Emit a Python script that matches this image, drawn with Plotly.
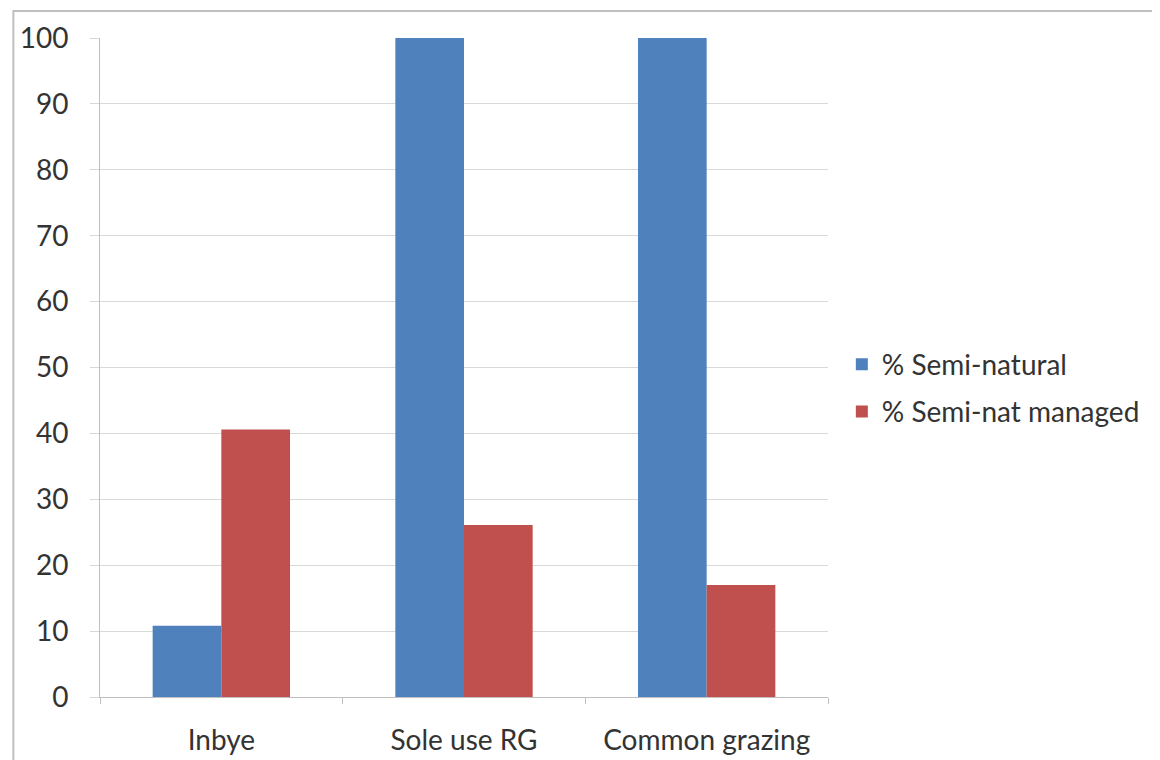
import plotly.graph_objects as go

categories = ["Inbye", "Sole use RG", "Common grazing"]
semi_natural = [10.8, 100, 100]
semi_nat_managed = [40.6, 26.1, 17.0]
y_ticks = [0, 10, 20, 30, 40, 50, 60, 70, 80, 90, 100]

font_family = "Lato, 'Open Sans', sans-serif"

fig = go.Figure()
fig.add_trace(go.Bar(x=categories, y=semi_natural, name="% Semi-natural",
                     marker=dict(color="#4F81BD", line=dict(width=0)), legendgroup="a"))
fig.add_trace(go.Bar(x=categories, y=semi_nat_managed, name="% Semi-nat managed",
                     marker=dict(color="#C0504D", line=dict(width=0)), legendgroup="b"))

fig.update_layout(
    width=1160, height=760,
    margin=dict(l=89, r=340, t=29, b=70),
    paper_bgcolor="white", plot_bgcolor="white",
    barmode="group", bargap=0.434, bargroupgap=0,
    font=dict(family=font_family, size=28, color="#333333"),
    legend=dict(x=1.019, y=0.469, xanchor="left", yanchor="middle",
                tracegroupgap=8, font=dict(size=28, color="#333333"),
                itemwidth=30, bgcolor="rgba(0,0,0,0)"),
    xaxis=dict(showline=True, linecolor="#bfbfbf", linewidth=1,
               ticks="outside", tickson="boundaries", ticklen=6, tickcolor="#bfbfbf",
               showgrid=False, tickfont=dict(size=28), ticklabelstandoff=18),
    yaxis=dict(range=[0, 100], tickvals=y_ticks, showline=True, linecolor="#bfbfbf",
               linewidth=1, ticks="outside", ticklen=9, tickcolor="#d9d9d9",
               gridcolor="#d9d9d9", gridwidth=1, zeroline=False,
               tickfont=dict(size=28), ticklabelstandoff=16),
    shapes=[dict(type="rect", xref="paper", yref="paper",
                 x0=(10 - 97) / 731, x1=1.6, y0=-0.3, y1=1 + (37 - 10) / 661,
                 line=dict(color="#bfbfbf", width=2), fillcolor="rgba(0,0,0,0)",
                 layer="below")],
)

fig.write_html("out.html")
